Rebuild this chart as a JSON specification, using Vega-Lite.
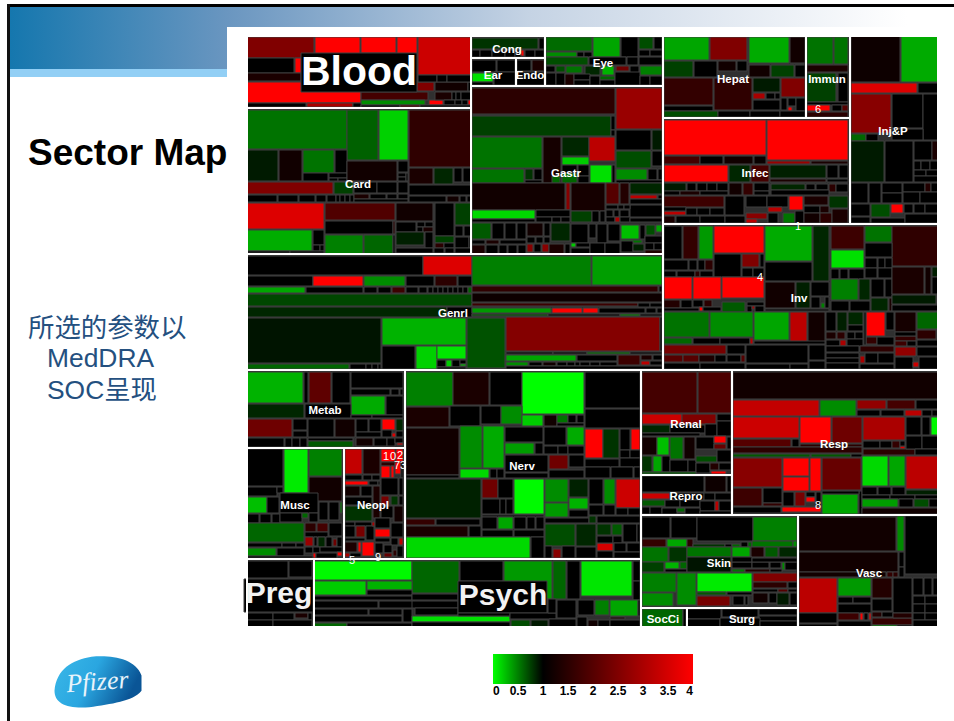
{"$schema":"https://vega.github.io/schema/vega-lite/v6.json","width":954,"height":721,"padding":0,"autosize":"none","background":"white","config":{"view":{"stroke":null}},
"datasets":{
"tiles":[
{"x0":247,"x1":314,"y0":37,"y1":58,"v":2.5},{"x0":315,"x1":360,"y0":37,"y1":75,"v":4},{"x0":361,"x1":396,"y0":37,"y1":53,"v":4},{"x0":397,"x1":417,"y0":37,"y1":57,"v":4},{"x0":418,"x1":471,"y0":37,"y1":75,"v":3.4},{"x0":247,"x1":294,"y0":58,"y1":73,"v":1},{"x0":295,"x1":315,"y0":58,"y1":73,"v":4},{"x0":247,"x1":301,"y0":73,"y1":81,"v":1.3},{"x0":247,"x1":361,"y0":82,"y1":103,"v":4},{"x0":361,"x1":428,"y0":92,"y1":100,"v":1.8},{"x0":361,"x1":425,"y0":100,"y1":105,"v":0.45},{"x0":429,"x1":443,"y0":100,"y1":105,"v":4},{"x0":417,"x1":434,"y0":82,"y1":91,"v":2.5},{"x0":435,"x1":468,"y0":82,"y1":91,"v":1.2},{"x0":468,"x1":471,"y0":82,"y1":91,"v":1},{"x0":418,"x1":437,"y0":75,"y1":82,"v":1},{"x0":437,"x1":447,"y0":75,"y1":82,"v":1},{"x0":447,"x1":471,"y0":75,"y1":82,"v":1},{"x0":435,"x1":452,"y0":92,"y1":100,"v":1.3},{"x0":452,"x1":456,"y0":92,"y1":100,"v":1},{"x0":456,"x1":461,"y0":92,"y1":100,"v":1},{"x0":461,"x1":471,"y0":92,"y1":100,"v":1},{"x0":444,"x1":455,"y0":100,"y1":105,"v":1},{"x0":455,"x1":462,"y0":100,"y1":105,"v":1},{"x0":462,"x1":468,"y0":100,"y1":105,"v":1},{"x0":468,"x1":471,"y0":100,"y1":105,"v":4},{"x0":247,"x1":306,"y0":103,"y1":107,"v":1},{"x0":307,"x1":353,"y0":103,"y1":107,"v":3},{"x0":353,"x1":361,"y0":103,"y1":107,"v":1},{"x0":361,"x1":400,"y0":105,"y1":107,"v":1},{"x0":400,"x1":420,"y0":105,"y1":107,"v":2},{"x0":420,"x1":471,"y0":105,"y1":107,"v":1},
{"x0":301,"x1":417,"y0":53,"y1":92,"v":1},
{"x0":247,"x1":347,"y0":110,"y1":149,"v":0.55},{"x0":347,"x1":378,"y0":110,"y1":160,"v":0.62},{"x0":379,"x1":408,"y0":110,"y1":160,"v":0.18},{"x0":409,"x1":471,"y0":110,"y1":167,"v":1.55},{"x0":247,"x1":278,"y0":150,"y1":181,"v":0.9},{"x0":279,"x1":302,"y0":150,"y1":181,"v":1.2},{"x0":303,"x1":334,"y0":150,"y1":173,"v":0.55},{"x0":335,"x1":347,"y0":150,"y1":173,"v":1},{"x0":303,"x1":328,"y0":173,"y1":181,"v":1},{"x0":329,"x1":347,"y0":173,"y1":178,"v":1},{"x0":329,"x1":338,"y0":178,"y1":181,"v":1},{"x0":338,"x1":347,"y0":178,"y1":181,"v":1},{"x0":347,"x1":397,"y0":161,"y1":181,"v":1.2},{"x0":398,"x1":408,"y0":161,"y1":172,"v":1},{"x0":398,"x1":406,"y0":173,"y1":177,"v":1},{"x0":398,"x1":406,"y0":177,"y1":181,"v":1},{"x0":406,"x1":408,"y0":173,"y1":181,"v":1},{"x0":409,"x1":433,"y0":168,"y1":184,"v":1.3},{"x0":434,"x1":453,"y0":168,"y1":184,"v":0.85},{"x0":454,"x1":462,"y0":168,"y1":182,"v":1},{"x0":463,"x1":471,"y0":168,"y1":182,"v":1},{"x0":247,"x1":333,"y0":182,"y1":194,"v":2.5},{"x0":334,"x1":353,"y0":182,"y1":194,"v":0.75},{"x0":354,"x1":377,"y0":182,"y1":193,"v":1},{"x0":377,"x1":397,"y0":182,"y1":193,"v":1},{"x0":398,"x1":408,"y0":182,"y1":193,"v":1},{"x0":409,"x1":471,"y0":185,"y1":195,"v":1},{"x0":247,"x1":277,"y0":195,"y1":202,"v":1},{"x0":278,"x1":298,"y0":195,"y1":202,"v":1},{"x0":299,"x1":315,"y0":195,"y1":202,"v":1},{"x0":316,"x1":326,"y0":195,"y1":202,"v":1},{"x0":327,"x1":336,"y0":195,"y1":202,"v":1},{"x0":336,"x1":340,"y0":195,"y1":202,"v":1},{"x0":340,"x1":345,"y0":195,"y1":202,"v":1},{"x0":345,"x1":350,"y0":195,"y1":202,"v":1},{"x0":350,"x1":354,"y0":195,"y1":202,"v":1},{"x0":354,"x1":369,"y0":194,"y1":199,"v":1.3},{"x0":370,"x1":386,"y0":194,"y1":199,"v":1},{"x0":387,"x1":397,"y0":194,"y1":199,"v":1},{"x0":398,"x1":408,"y0":194,"y1":199,"v":1},{"x0":354,"x1":408,"y0":199,"y1":202,"v":1},{"x0":409,"x1":446,"y0":196,"y1":202,"v":1},{"x0":447,"x1":459,"y0":196,"y1":202,"v":1.2},{"x0":460,"x1":466,"y0":196,"y1":202,"v":1},{"x0":467,"x1":471,"y0":196,"y1":202,"v":1},{"x0":247,"x1":324,"y0":203,"y1":229,"v":3.6},{"x0":325,"x1":395,"y0":203,"y1":220,"v":1.94},{"x0":396,"x1":433,"y0":203,"y1":221,"v":1.2},{"x0":435,"x1":454,"y0":203,"y1":236,"v":1},{"x0":455,"x1":471,"y0":203,"y1":225,"v":0.75},{"x0":325,"x1":393,"y0":221,"y1":234,"v":1},{"x0":393,"x1":395,"y0":221,"y1":234,"v":1.5},{"x0":396,"x1":416,"y0":222,"y1":232,"v":1},{"x0":417,"x1":425,"y0":222,"y1":227,"v":1},{"x0":425,"x1":433,"y0":222,"y1":227,"v":1},{"x0":417,"x1":423,"y0":227,"y1":232,"v":1},{"x0":423,"x1":433,"y0":227,"y1":232,"v":1.3},{"x0":247,"x1":312,"y0":230,"y1":251,"v":0.32},{"x0":313,"x1":324,"y0":230,"y1":245,"v":1},{"x0":313,"x1":320,"y0":245,"y1":251,"v":1},{"x0":320,"x1":324,"y0":245,"y1":251,"v":1},{"x0":325,"x1":363,"y0":235,"y1":254,"v":0.5},{"x0":364,"x1":393,"y0":235,"y1":254,"v":0.6},{"x0":393,"x1":395,"y0":235,"y1":254,"v":1},{"x0":396,"x1":424,"y0":232,"y1":245,"v":0.88},{"x0":425,"x1":433,"y0":232,"y1":248,"v":1},{"x0":435,"x1":454,"y0":236,"y1":243,"v":0.75},{"x0":435,"x1":444,"y0":243,"y1":248,"v":1.5},{"x0":444,"x1":454,"y0":243,"y1":248,"v":1},{"x0":455,"x1":463,"y0":226,"y1":236,"v":1},{"x0":464,"x1":471,"y0":226,"y1":236,"v":1},{"x0":455,"x1":469,"y0":237,"y1":248,"v":1},{"x0":469,"x1":471,"y0":237,"y1":248,"v":1},{"x0":396,"x1":433,"y0":248,"y1":253,"v":1},{"x0":434,"x1":444,"y0":248,"y1":253,"v":1},{"x0":445,"x1":454,"y0":248,"y1":253,"v":1},{"x0":455,"x1":471,"y0":248,"y1":253,"v":1},{"x0":247,"x1":290,"y0":251,"y1":253,"v":1},{"x0":290,"x1":324,"y0":251,"y1":253,"v":1},
{"x0":472,"x1":538,"y0":38,"y1":49,"v":0.8},{"x0":539,"x1":544,"y0":38,"y1":49,"v":1},{"x0":472,"x1":480,"y0":50,"y1":57,"v":1},{"x0":480,"x1":492,"y0":50,"y1":57,"v":1},{"x0":492,"x1":505,"y0":50,"y1":57,"v":1},{"x0":505,"x1":515,"y0":50,"y1":57,"v":1},{"x0":515,"x1":521,"y0":50,"y1":57,"v":1},{"x0":521,"x1":524,"y0":50,"y1":56,"v":4},{"x0":525,"x1":535,"y0":50,"y1":57,"v":1},{"x0":535,"x1":544,"y0":50,"y1":57,"v":1},
{"x0":472,"x1":496,"y0":60,"y1":72,"v":1},{"x0":497,"x1":515,"y0":60,"y1":72,"v":1},{"x0":472,"x1":493,"y0":73,"y1":82,"v":0.12},{"x0":494,"x1":515,"y0":72,"y1":85,"v":1},{"x0":472,"x1":493,"y0":82,"y1":85,"v":1},{"x0":517,"x1":531,"y0":60,"y1":71,"v":1},{"x0":532,"x1":544,"y0":60,"y1":71,"v":1.3},{"x0":517,"x1":544,"y0":72,"y1":85,"v":1},
{"x0":546,"x1":592,"y0":37,"y1":51,"v":0.58},{"x0":593,"x1":620,"y0":37,"y1":57,"v":0.35},{"x0":621,"x1":638,"y0":37,"y1":57,"v":1},{"x0":639,"x1":653,"y0":37,"y1":49,"v":0.7},{"x0":654,"x1":662,"y0":37,"y1":49,"v":1},{"x0":546,"x1":577,"y0":52,"y1":57,"v":0.45},{"x0":577,"x1":584,"y0":52,"y1":57,"v":1},{"x0":584,"x1":592,"y0":52,"y1":57,"v":1},{"x0":546,"x1":588,"y0":57,"y1":65,"v":0.7},{"x0":589,"x1":626,"y0":57,"y1":65,"v":1},{"x0":627,"x1":638,"y0":57,"y1":65,"v":1},{"x0":639,"x1":650,"y0":50,"y1":56,"v":1},{"x0":650,"x1":662,"y0":50,"y1":56,"v":1},{"x0":639,"x1":662,"y0":57,"y1":65,"v":1},{"x0":546,"x1":555,"y0":66,"y1":72,"v":1},{"x0":556,"x1":565,"y0":66,"y1":72,"v":0.7},{"x0":566,"x1":582,"y0":66,"y1":73,"v":0.55},{"x0":585,"x1":600,"y0":66,"y1":75,"v":0.85},{"x0":602,"x1":614,"y0":66,"y1":75,"v":0.3},{"x0":616,"x1":629,"y0":66,"y1":71,"v":2.3},{"x0":630,"x1":639,"y0":66,"y1":75,"v":1},{"x0":640,"x1":662,"y0":66,"y1":75,"v":0.5},{"x0":546,"x1":556,"y0":73,"y1":85,"v":1},{"x0":556,"x1":565,"y0":73,"y1":85,"v":1},{"x0":565,"x1":574,"y0":74,"y1":85,"v":1.3},{"x0":574,"x1":590,"y0":74,"y1":80,"v":1},{"x0":574,"x1":590,"y0":80,"y1":85,"v":1},{"x0":590,"x1":600,"y0":76,"y1":85,"v":1},{"x0":600,"x1":615,"y0":76,"y1":80,"v":0.6},{"x0":600,"x1":615,"y0":80,"y1":85,"v":1},{"x0":615,"x1":640,"y0":72,"y1":85,"v":1},{"x0":640,"x1":650,"y0":76,"y1":85,"v":1},{"x0":650,"x1":662,"y0":76,"y1":85,"v":1},
{"x0":472,"x1":615,"y0":88,"y1":114,"v":1.5},{"x0":616,"x1":662,"y0":88,"y1":129,"v":2.8},{"x0":472,"x1":611,"y0":116,"y1":136,"v":0.75},{"x0":611,"x1":615,"y0":116,"y1":130,"v":1},{"x0":611,"x1":615,"y0":130,"y1":136,"v":1},{"x0":472,"x1":542,"y0":137,"y1":168,"v":0.55},{"x0":543,"x1":561,"y0":137,"y1":183,"v":1.25},{"x0":562,"x1":589,"y0":137,"y1":156,"v":0.85},{"x0":589,"x1":615,"y0":137,"y1":161,"v":3.2},{"x0":616,"x1":651,"y0":130,"y1":150,"v":1},{"x0":652,"x1":662,"y0":130,"y1":150,"v":0.9},{"x0":616,"x1":651,"y0":151,"y1":168,"v":0.7},{"x0":652,"x1":662,"y0":151,"y1":166,"v":1},{"x0":562,"x1":589,"y0":157,"y1":165,"v":0.2},{"x0":562,"x1":577,"y0":165,"y1":173,"v":1},{"x0":578,"x1":589,"y0":165,"y1":176,"v":1},{"x0":472,"x1":524,"y0":169,"y1":183,"v":0.55},{"x0":525,"x1":533,"y0":169,"y1":180,"v":0.8},{"x0":534,"x1":542,"y0":169,"y1":180,"v":1},{"x0":525,"x1":542,"y0":180,"y1":183,"v":1},{"x0":552,"x1":560,"y0":176,"y1":183,"v":0.6},{"x0":562,"x1":577,"y0":173,"y1":183,"v":0.6},{"x0":578,"x1":589,"y0":176,"y1":183,"v":1},{"x0":590,"x1":612,"y0":165,"y1":183,"v":0.12},{"x0":612,"x1":615,"y0":165,"y1":183,"v":1},{"x0":616,"x1":647,"y0":169,"y1":180,"v":0.45},{"x0":648,"x1":657,"y0":169,"y1":180,"v":1},{"x0":658,"x1":662,"y0":169,"y1":180,"v":1},{"x0":616,"x1":662,"y0":180,"y1":183,"v":1},{"x0":472,"x1":565,"y0":183,"y1":210,"v":1.2},{"x0":566,"x1":570,"y0":183,"y1":210,"v":2.6},{"x0":571,"x1":605,"y0":183,"y1":211,"v":1.25},{"x0":606,"x1":619,"y0":183,"y1":204,"v":2},{"x0":620,"x1":629,"y0":183,"y1":204,"v":1.4},{"x0":630,"x1":662,"y0":183,"y1":194,"v":0.85},{"x0":630,"x1":657,"y0":195,"y1":199,"v":3.2},{"x0":658,"x1":662,"y0":195,"y1":199,"v":1},{"x0":630,"x1":662,"y0":199,"y1":204,"v":1},{"x0":630,"x1":662,"y0":205,"y1":217,"v":1},{"x0":606,"x1":618,"y0":205,"y1":209,"v":1},{"x0":618,"x1":624,"y0":205,"y1":209,"v":1},{"x0":624,"x1":630,"y0":205,"y1":209,"v":1},{"x0":472,"x1":535,"y0":210,"y1":219,"v":0.15},{"x0":536,"x1":570,"y0":210,"y1":217,"v":1},{"x0":536,"x1":552,"y0":217,"y1":222,"v":1},{"x0":552,"x1":561,"y0":217,"y1":222,"v":1},{"x0":561,"x1":570,"y0":217,"y1":222,"v":1},{"x0":472,"x1":535,"y0":219,"y1":222,"v":1},{"x0":571,"x1":592,"y0":211,"y1":222,"v":0.75},{"x0":592,"x1":599,"y0":211,"y1":222,"v":1},{"x0":600,"x1":605,"y0":211,"y1":222,"v":1},{"x0":606,"x1":613,"y0":210,"y1":217,"v":1},{"x0":614,"x1":619,"y0":210,"y1":217,"v":1},{"x0":620,"x1":629,"y0":210,"y1":217,"v":1},{"x0":606,"x1":615,"y0":217,"y1":222,"v":1},{"x0":615,"x1":620,"y0":217,"y1":222,"v":3},{"x0":620,"x1":630,"y0":217,"y1":222,"v":1},{"x0":630,"x1":662,"y0":218,"y1":222,"v":1},{"x0":472,"x1":491,"y0":223,"y1":239,"v":0.65},{"x0":492,"x1":504,"y0":223,"y1":239,"v":1},{"x0":505,"x1":516,"y0":223,"y1":239,"v":1},{"x0":517,"x1":526,"y0":223,"y1":239,"v":1},{"x0":527,"x1":543,"y0":223,"y1":236,"v":1.2},{"x0":544,"x1":550,"y0":223,"y1":236,"v":1},{"x0":551,"x1":570,"y0":223,"y1":241,"v":0.85},{"x0":571,"x1":588,"y0":224,"y1":243,"v":1},{"x0":589,"x1":596,"y0":224,"y1":238,"v":1},{"x0":597,"x1":607,"y0":224,"y1":243,"v":1},{"x0":608,"x1":620,"y0":224,"y1":241,"v":1},{"x0":621,"x1":639,"y0":225,"y1":239,"v":0.25},{"x0":640,"x1":645,"y0":225,"y1":239,"v":1},{"x0":646,"x1":655,"y0":225,"y1":235,"v":0.7},{"x0":656,"x1":662,"y0":225,"y1":232,"v":0.35},{"x0":621,"x1":642,"y0":240,"y1":243,"v":0.55},{"x0":472,"x1":485,"y0":240,"y1":244,"v":1},{"x0":486,"x1":499,"y0":240,"y1":244,"v":1.3},{"x0":500,"x1":526,"y0":240,"y1":244,"v":1},{"x0":527,"x1":535,"y0":237,"y1":243,"v":1},{"x0":536,"x1":543,"y0":237,"y1":243,"v":1},{"x0":544,"x1":550,"y0":237,"y1":243,"v":1},{"x0":472,"x1":485,"y0":245,"y1":254,"v":1.3},{"x0":486,"x1":498,"y0":245,"y1":254,"v":1},{"x0":499,"x1":507,"y0":245,"y1":254,"v":1},{"x0":508,"x1":517,"y0":245,"y1":254,"v":1},{"x0":518,"x1":526,"y0":245,"y1":254,"v":1},{"x0":527,"x1":533,"y0":244,"y1":252,"v":2.6},{"x0":534,"x1":541,"y0":244,"y1":252,"v":1},{"x0":542,"x1":549,"y0":244,"y1":252,"v":2.6},{"x0":549,"x1":564,"y0":244,"y1":254,"v":1.3},{"x0":565,"x1":570,"y0":244,"y1":254,"v":1},{"x0":571,"x1":576,"y0":243,"y1":247,"v":0.2},{"x0":576,"x1":590,"y0":243,"y1":247,"v":1},{"x0":571,"x1":590,"y0":248,"y1":254,"v":1},{"x0":590,"x1":605,"y0":243,"y1":254,"v":1},{"x0":605,"x1":620,"y0":243,"y1":254,"v":1},{"x0":621,"x1":633,"y0":241,"y1":252,"v":1},{"x0":633,"x1":644,"y0":244,"y1":251,"v":0.88},{"x0":645,"x1":662,"y0":236,"y1":243,"v":1},{"x0":645,"x1":654,"y0":243,"y1":250,"v":1},{"x0":654,"x1":662,"y0":243,"y1":250,"v":1},{"x0":645,"x1":662,"y0":250,"y1":254,"v":1.4},
{"x0":664,"x1":709,"y0":37,"y1":60,"v":0.35},{"x0":710,"x1":747,"y0":37,"y1":60,"v":2.5},{"x0":749,"x1":789,"y0":37,"y1":63,"v":0.33},{"x0":790,"x1":805,"y0":37,"y1":63,"v":1.2},{"x0":664,"x1":693,"y0":61,"y1":77,"v":0.75},{"x0":694,"x1":717,"y0":61,"y1":77,"v":1},{"x0":718,"x1":736,"y0":61,"y1":71,"v":1.2},{"x0":737,"x1":747,"y0":61,"y1":71,"v":1},{"x0":749,"x1":770,"y0":65,"y1":77,"v":1.2},{"x0":771,"x1":794,"y0":65,"y1":77,"v":0.75},{"x0":795,"x1":805,"y0":65,"y1":77,"v":1},{"x0":664,"x1":713,"y0":78,"y1":105,"v":1.6},{"x0":714,"x1":752,"y0":78,"y1":110,"v":1.55},{"x0":753,"x1":780,"y0":78,"y1":92,"v":0.9},{"x0":781,"x1":805,"y0":78,"y1":97,"v":2.5},{"x0":753,"x1":765,"y0":93,"y1":99,"v":3},{"x0":766,"x1":775,"y0":93,"y1":99,"v":1},{"x0":775,"x1":780,"y0":93,"y1":99,"v":1},{"x0":753,"x1":780,"y0":100,"y1":110,"v":1},{"x0":781,"x1":787,"y0":98,"y1":110,"v":1},{"x0":788,"x1":792,"y0":107,"y1":111,"v":4},{"x0":788,"x1":796,"y0":98,"y1":106,"v":1},{"x0":796,"x1":805,"y0":98,"y1":111,"v":1},{"x0":664,"x1":713,"y0":106,"y1":111,"v":1},{"x0":664,"x1":718,"y0":111,"y1":117,"v":0.7},{"x0":718,"x1":750,"y0":111,"y1":117,"v":1},{"x0":750,"x1":780,"y0":111,"y1":117,"v":1},{"x0":780,"x1":805,"y0":111,"y1":117,"v":1},
{"x0":807,"x1":833,"y0":37,"y1":64,"v":0.55},{"x0":834,"x1":848,"y0":37,"y1":64,"v":0.55},{"x0":807,"x1":848,"y0":65,"y1":72,"v":1.3},{"x0":807,"x1":836,"y0":73,"y1":102,"v":0.75},{"x0":838,"x1":848,"y0":73,"y1":102,"v":1},{"x0":807,"x1":848,"y0":102,"y1":105,"v":1},{"x0":807,"x1":830,"y0":105,"y1":111,"v":4},{"x0":832,"x1":842,"y0":105,"y1":111,"v":1},{"x0":842,"x1":848,"y0":105,"y1":111,"v":2},{"x0":807,"x1":848,"y0":112,"y1":117,"v":1.5},
{"x0":851,"x1":900,"y0":36,"y1":82,"v":1.15},{"x0":901,"x1":938,"y0":36,"y1":82,"v":0.33},{"x0":851,"x1":917,"y0":83,"y1":93,"v":3.6},{"x0":918,"x1":938,"y0":83,"y1":93,"v":1},{"x0":851,"x1":891,"y0":94,"y1":133,"v":2.6},{"x0":892,"x1":923,"y0":94,"y1":128,"v":1},{"x0":923,"x1":938,"y0":94,"y1":140,"v":1},{"x0":851,"x1":866,"y0":134,"y1":141,"v":0.6},{"x0":866,"x1":878,"y0":134,"y1":141,"v":1},{"x0":892,"x1":923,"y0":129,"y1":140,"v":1},{"x0":851,"x1":884,"y0":141,"y1":182,"v":0.9},{"x0":885,"x1":913,"y0":141,"y1":182,"v":1},{"x0":914,"x1":932,"y0":141,"y1":160,"v":1},{"x0":932,"x1":938,"y0":141,"y1":160,"v":1.3},{"x0":914,"x1":921,"y0":161,"y1":170,"v":1},{"x0":921,"x1":930,"y0":161,"y1":170,"v":1},{"x0":930,"x1":938,"y0":161,"y1":170,"v":1},{"x0":914,"x1":926,"y0":170,"y1":176,"v":1},{"x0":926,"x1":938,"y0":170,"y1":176,"v":1},{"x0":914,"x1":938,"y0":176,"y1":182,"v":1},{"x0":851,"x1":868,"y0":183,"y1":203,"v":1},{"x0":869,"x1":881,"y0":183,"y1":203,"v":1},{"x0":882,"x1":902,"y0":183,"y1":193,"v":1},{"x0":882,"x1":902,"y0":193,"y1":203,"v":1},{"x0":903,"x1":925,"y0":183,"y1":192,"v":1},{"x0":925,"x1":931,"y0":183,"y1":192,"v":1.4},{"x0":931,"x1":938,"y0":183,"y1":192,"v":1},{"x0":903,"x1":920,"y0":192,"y1":203,"v":1},{"x0":920,"x1":938,"y0":192,"y1":203,"v":1},{"x0":851,"x1":870,"y0":204,"y1":216,"v":1},{"x0":871,"x1":890,"y0":204,"y1":217,"v":0.7},{"x0":891,"x1":903,"y0":204,"y1":213,"v":4},{"x0":904,"x1":913,"y0":204,"y1":213,"v":1},{"x0":914,"x1":925,"y0":204,"y1":213,"v":1},{"x0":925,"x1":938,"y0":204,"y1":213,"v":1},{"x0":851,"x1":870,"y0":217,"y1":223,"v":1},{"x0":871,"x1":905,"y0":218,"y1":223,"v":1},{"x0":905,"x1":938,"y0":214,"y1":223,"v":1},
{"x0":664,"x1":766,"y0":120,"y1":155,"v":4},{"x0":767,"x1":848,"y0":120,"y1":160,"v":4},{"x0":664,"x1":700,"y0":156,"y1":164,"v":1.8},{"x0":700,"x1":723,"y0":156,"y1":164,"v":1},{"x0":724,"x1":753,"y0":156,"y1":164,"v":1.2},{"x0":754,"x1":766,"y0":156,"y1":164,"v":1.1},{"x0":767,"x1":810,"y0":161,"y1":164,"v":2.8},{"x0":811,"x1":848,"y0":161,"y1":164,"v":1.3},{"x0":664,"x1":728,"y0":165,"y1":182,"v":4},{"x0":729,"x1":750,"y0":165,"y1":182,"v":0.85},{"x0":751,"x1":769,"y0":165,"y1":182,"v":1.8},{"x0":770,"x1":826,"y0":165,"y1":178,"v":0.88},{"x0":827,"x1":838,"y0":165,"y1":178,"v":1},{"x0":839,"x1":848,"y0":165,"y1":178,"v":1},{"x0":770,"x1":826,"y0":179,"y1":182,"v":1.3},{"x0":827,"x1":848,"y0":179,"y1":182,"v":1},{"x0":664,"x1":686,"y0":183,"y1":191,"v":0.9},{"x0":687,"x1":696,"y0":183,"y1":191,"v":1},{"x0":697,"x1":707,"y0":183,"y1":191,"v":1},{"x0":707,"x1":717,"y0":183,"y1":191,"v":1},{"x0":717,"x1":728,"y0":183,"y1":191,"v":1},{"x0":664,"x1":680,"y0":191,"y1":195,"v":1},{"x0":680,"x1":700,"y0":191,"y1":195,"v":1.3},{"x0":700,"x1":728,"y0":191,"y1":195,"v":1},{"x0":729,"x1":742,"y0":183,"y1":195,"v":1.2},{"x0":743,"x1":753,"y0":183,"y1":195,"v":1.6},{"x0":754,"x1":769,"y0":183,"y1":191,"v":1},{"x0":754,"x1":769,"y0":191,"y1":195,"v":1},{"x0":771,"x1":805,"y0":184,"y1":190,"v":0.85},{"x0":806,"x1":815,"y0":184,"y1":190,"v":1},{"x0":816,"x1":828,"y0":184,"y1":190,"v":1},{"x0":829,"x1":836,"y0":184,"y1":192,"v":1.5},{"x0":836,"x1":848,"y0":184,"y1":192,"v":1},{"x0":771,"x1":829,"y0":190,"y1":195,"v":1},{"x0":664,"x1":724,"y0":196,"y1":207,"v":1.7},{"x0":725,"x1":744,"y0":196,"y1":215,"v":1},{"x0":746,"x1":767,"y0":196,"y1":207,"v":1},{"x0":767,"x1":788,"y0":196,"y1":207,"v":1},{"x0":789,"x1":803,"y0":196,"y1":210,"v":4},{"x0":804,"x1":828,"y0":196,"y1":205,"v":1.3},{"x0":829,"x1":848,"y0":196,"y1":208,"v":0.8},{"x0":664,"x1":686,"y0":211,"y1":215,"v":3.2},{"x0":664,"x1":686,"y0":207,"y1":211,"v":1},{"x0":686,"x1":697,"y0":208,"y1":215,"v":1},{"x0":697,"x1":710,"y0":208,"y1":215,"v":1},{"x0":710,"x1":724,"y0":208,"y1":215,"v":1},{"x0":664,"x1":675,"y0":216,"y1":223,"v":1.3},{"x0":676,"x1":700,"y0":216,"y1":223,"v":1},{"x0":700,"x1":725,"y0":216,"y1":223,"v":1},{"x0":725,"x1":745,"y0":216,"y1":223,"v":1},{"x0":746,"x1":767,"y0":213,"y1":219,"v":2.6},{"x0":746,"x1":757,"y0":219,"y1":223,"v":3.2},{"x0":768,"x1":782,"y0":207,"y1":212,"v":3.2},{"x0":768,"x1":778,"y0":213,"y1":223,"v":1},{"x0":783,"x1":795,"y0":213,"y1":223,"v":0.55},{"x0":795,"x1":804,"y0":211,"y1":223,"v":1},{"x0":804,"x1":820,"y0":206,"y1":213,"v":1},{"x0":820,"x1":829,"y0":206,"y1":213,"v":1.3},{"x0":804,"x1":820,"y0":213,"y1":223,"v":1.2},{"x0":820,"x1":832,"y0":213,"y1":223,"v":1.5},{"x0":832,"x1":848,"y0":209,"y1":223,"v":1.3},
{"x0":664,"x1":682,"y0":226,"y1":259,"v":1},{"x0":683,"x1":698,"y0":226,"y1":259,"v":1.6},{"x0":699,"x1":713,"y0":226,"y1":259,"v":0.4},{"x0":714,"x1":764,"y0":226,"y1":253,"v":4},{"x0":765,"x1":812,"y0":226,"y1":261,"v":0.33},{"x0":813,"x1":829,"y0":226,"y1":281,"v":0.85},{"x0":831,"x1":864,"y0":226,"y1":249,"v":1.7},{"x0":865,"x1":892,"y0":226,"y1":242,"v":0.55},{"x0":892,"x1":938,"y0":226,"y1":266,"v":1.55},{"x0":831,"x1":864,"y0":250,"y1":268,"v":0.12},{"x0":865,"x1":892,"y0":243,"y1":257,"v":1},{"x0":865,"x1":877,"y0":258,"y1":268,"v":1},{"x0":878,"x1":885,"y0":258,"y1":268,"v":1},{"x0":885,"x1":892,"y0":258,"y1":268,"v":1},{"x0":865,"x1":877,"y0":268,"y1":278,"v":1},{"x0":878,"x1":892,"y0":268,"y1":278,"v":1},{"x0":831,"x1":839,"y0":269,"y1":279,"v":1},{"x0":840,"x1":848,"y0":269,"y1":279,"v":1},{"x0":849,"x1":864,"y0":269,"y1":279,"v":1},{"x0":714,"x1":741,"y0":254,"y1":277,"v":1},{"x0":742,"x1":759,"y0":254,"y1":267,"v":2.5},{"x0":760,"x1":764,"y0":254,"y1":267,"v":1},{"x0":742,"x1":753,"y0":268,"y1":277,"v":1},{"x0":753,"x1":764,"y0":268,"y1":277,"v":1},{"x0":765,"x1":812,"y0":262,"y1":281,"v":1},{"x0":664,"x1":688,"y0":260,"y1":270,"v":1},{"x0":689,"x1":697,"y0":260,"y1":270,"v":1},{"x0":698,"x1":705,"y0":260,"y1":270,"v":1},{"x0":705,"x1":713,"y0":260,"y1":270,"v":1.5},{"x0":664,"x1":676,"y0":271,"y1":277,"v":1},{"x0":677,"x1":695,"y0":271,"y1":277,"v":1},{"x0":695,"x1":700,"y0":271,"y1":277,"v":1.5},{"x0":700,"x1":713,"y0":271,"y1":277,"v":1},{"x0":664,"x1":692,"y0":277,"y1":299,"v":4},{"x0":693,"x1":721,"y0":277,"y1":299,"v":4},{"x0":722,"x1":764,"y0":277,"y1":298,"v":4},{"x0":765,"x1":795,"y0":282,"y1":308,"v":1.2},{"x0":796,"x1":810,"y0":282,"y1":308,"v":0.88},{"x0":811,"x1":829,"y0":282,"y1":296,"v":1},{"x0":811,"x1":820,"y0":297,"y1":308,"v":1},{"x0":821,"x1":825,"y0":303,"y1":308,"v":0.5},{"x0":825,"x1":829,"y0":297,"y1":308,"v":1},{"x0":831,"x1":858,"y0":279,"y1":300,"v":0.5},{"x0":859,"x1":870,"y0":279,"y1":300,"v":0.85},{"x0":871,"x1":884,"y0":279,"y1":297,"v":1},{"x0":885,"x1":892,"y0":279,"y1":297,"v":1},{"x0":871,"x1":888,"y0":298,"y1":311,"v":0.85},{"x0":889,"x1":892,"y0":298,"y1":311,"v":1.3},{"x0":892,"x1":936,"y0":295,"y1":304,"v":0.9},{"x0":892,"x1":924,"y0":267,"y1":294,"v":1.3},{"x0":925,"x1":931,"y0":267,"y1":294,"v":1.2},{"x0":932,"x1":938,"y0":267,"y1":277,"v":0.88},{"x0":932,"x1":938,"y0":277,"y1":294,"v":1},{"x0":831,"x1":849,"y0":301,"y1":311,"v":1},{"x0":850,"x1":870,"y0":301,"y1":311,"v":1},{"x0":892,"x1":938,"y0":305,"y1":311,"v":1},{"x0":664,"x1":680,"y0":300,"y1":308,"v":1.4},{"x0":681,"x1":692,"y0":300,"y1":308,"v":1},{"x0":693,"x1":703,"y0":300,"y1":307,"v":1},{"x0":704,"x1":712,"y0":300,"y1":307,"v":1.5},{"x0":699,"x1":703,"y0":307,"y1":311,"v":4},{"x0":664,"x1":699,"y0":308,"y1":311,"v":1},{"x0":703,"x1":721,"y0":307,"y1":311,"v":1},{"x0":722,"x1":745,"y0":302,"y1":312,"v":0.65},{"x0":747,"x1":764,"y0":302,"y1":306,"v":1},{"x0":747,"x1":752,"y0":306,"y1":312,"v":1},{"x0":752,"x1":755,"y0":306,"y1":309,"v":3},{"x0":755,"x1":764,"y0":306,"y1":312,"v":1},{"x0":765,"x1":829,"y0":309,"y1":311,"v":1},
{"x0":664,"x1":709,"y0":312,"y1":337,"v":0.55},{"x0":710,"x1":753,"y0":312,"y1":337,"v":0.45},{"x0":754,"x1":789,"y0":312,"y1":340,"v":0.35},{"x0":790,"x1":807,"y0":312,"y1":342,"v":3.2},{"x0":808,"x1":825,"y0":312,"y1":342,"v":1.2},{"x0":826,"x1":836,"y0":312,"y1":331,"v":1},{"x0":837,"x1":847,"y0":312,"y1":331,"v":0.88},{"x0":848,"x1":863,"y0":312,"y1":325,"v":0.85},{"x0":848,"x1":863,"y0":325,"y1":331,"v":1},{"x0":866,"x1":885,"y0":312,"y1":336,"v":4},{"x0":886,"x1":894,"y0":312,"y1":330,"v":1},{"x0":895,"x1":916,"y0":312,"y1":332,"v":1.25},{"x0":917,"x1":938,"y0":312,"y1":329,"v":0.6},{"x0":917,"x1":936,"y0":330,"y1":339,"v":1.5},{"x0":895,"x1":916,"y0":336,"y1":341,"v":1.6},{"x0":895,"x1":916,"y0":332,"y1":336,"v":1},{"x0":895,"x1":907,"y0":341,"y1":346,"v":1.7},{"x0":907,"x1":916,"y0":341,"y1":346,"v":1},{"x0":917,"x1":938,"y0":340,"y1":346,"v":1},{"x0":866,"x1":877,"y0":337,"y1":344,"v":1.6},{"x0":877,"x1":894,"y0":337,"y1":345,"v":1},{"x0":864,"x1":866,"y0":312,"y1":345,"v":1},{"x0":826,"x1":836,"y0":332,"y1":339,"v":1.3},{"x0":837,"x1":845,"y0":332,"y1":339,"v":1.5},{"x0":826,"x1":840,"y0":340,"y1":346,"v":1},{"x0":840,"x1":846,"y0":340,"y1":346,"v":3},{"x0":847,"x1":855,"y0":332,"y1":339,"v":1},{"x0":855,"x1":863,"y0":332,"y1":339,"v":1},{"x0":847,"x1":863,"y0":339,"y1":346,"v":1},{"x0":664,"x1":692,"y0":338,"y1":344,"v":0.6},{"x0":693,"x1":720,"y0":338,"y1":344,"v":1},{"x0":720,"x1":750,"y0":338,"y1":344,"v":1},{"x0":750,"x1":753,"y0":338,"y1":344,"v":3.2},{"x0":754,"x1":825,"y0":341,"y1":344,"v":1},{"x0":664,"x1":726,"y0":345,"y1":354,"v":2.4},{"x0":727,"x1":745,"y0":345,"y1":354,"v":1},{"x0":746,"x1":808,"y0":345,"y1":363,"v":1},{"x0":809,"x1":825,"y0":345,"y1":360,"v":1},{"x0":826,"x1":859,"y0":346,"y1":352,"v":1},{"x0":860,"x1":894,"y0":346,"y1":352,"v":1.5},{"x0":895,"x1":916,"y0":347,"y1":356,"v":2.7},{"x0":917,"x1":938,"y0":347,"y1":356,"v":1},{"x0":664,"x1":683,"y0":355,"y1":362,"v":2},{"x0":683,"x1":699,"y0":355,"y1":362,"v":2},{"x0":699,"x1":715,"y0":355,"y1":362,"v":1.3},{"x0":715,"x1":726,"y0":355,"y1":362,"v":1},{"x0":727,"x1":741,"y0":355,"y1":362,"v":1},{"x0":741,"x1":745,"y0":355,"y1":362,"v":2},{"x0":664,"x1":700,"y0":363,"y1":369,"v":1},{"x0":700,"x1":745,"y0":363,"y1":369,"v":1},{"x0":746,"x1":790,"y0":364,"y1":369,"v":1},{"x0":790,"x1":808,"y0":364,"y1":369,"v":1},{"x0":809,"x1":825,"y0":361,"y1":369,"v":1},{"x0":826,"x1":859,"y0":353,"y1":358,"v":1},{"x0":826,"x1":859,"y0":358,"y1":363,"v":1},{"x0":826,"x1":859,"y0":363,"y1":369,"v":1},{"x0":860,"x1":865,"y0":356,"y1":363,"v":3},{"x0":865,"x1":878,"y0":353,"y1":363,"v":1},{"x0":878,"x1":894,"y0":353,"y1":363,"v":1},{"x0":860,"x1":894,"y0":364,"y1":369,"v":1},{"x0":895,"x1":913,"y0":357,"y1":369,"v":1},{"x0":913,"x1":919,"y0":362,"y1":367,"v":3.4},{"x0":919,"x1":938,"y0":357,"y1":369,"v":1},
{"x0":247,"x1":423,"y0":256,"y1":275,"v":1},{"x0":423,"x1":472,"y0":256,"y1":275,"v":3.6},{"x0":247,"x1":313,"y0":276,"y1":286,"v":1},{"x0":313,"x1":363,"y0":276,"y1":286,"v":4},{"x0":364,"x1":405,"y0":276,"y1":286,"v":0.45},{"x0":406,"x1":434,"y0":276,"y1":286,"v":1},{"x0":435,"x1":457,"y0":276,"y1":286,"v":1.5},{"x0":458,"x1":472,"y0":276,"y1":286,"v":1},{"x0":247,"x1":305,"y0":287,"y1":293,"v":0.35},{"x0":306,"x1":363,"y0":287,"y1":293,"v":1},{"x0":364,"x1":377,"y0":287,"y1":293,"v":1},{"x0":378,"x1":391,"y0":287,"y1":293,"v":1},{"x0":392,"x1":405,"y0":287,"y1":293,"v":1.7},{"x0":406,"x1":418,"y0":287,"y1":293,"v":1},{"x0":419,"x1":427,"y0":287,"y1":293,"v":1},{"x0":428,"x1":433,"y0":287,"y1":293,"v":1},{"x0":433,"x1":438,"y0":287,"y1":293,"v":1},{"x0":438,"x1":443,"y0":287,"y1":293,"v":1},{"x0":443,"x1":448,"y0":287,"y1":293,"v":1},{"x0":448,"x1":453,"y0":287,"y1":293,"v":1},{"x0":453,"x1":458,"y0":287,"y1":293,"v":1},{"x0":458,"x1":463,"y0":287,"y1":293,"v":1},{"x0":463,"x1":468,"y0":287,"y1":293,"v":1},{"x0":468,"x1":472,"y0":287,"y1":293,"v":0.6},{"x0":247,"x1":472,"y0":294,"y1":306,"v":0.72},{"x0":247,"x1":447,"y0":307,"y1":317,"v":0.85},{"x0":447,"x1":472,"y0":307,"y1":317,"v":1},{"x0":247,"x1":381,"y0":318,"y1":363,"v":0.92},{"x0":382,"x1":466,"y0":318,"y1":345,"v":0.3},{"x0":382,"x1":415,"y0":346,"y1":369,"v":1},{"x0":416,"x1":437,"y0":346,"y1":369,"v":0.18},{"x0":437,"x1":466,"y0":346,"y1":359,"v":0.1},{"x0":437,"x1":446,"y0":360,"y1":367,"v":1},{"x0":446,"x1":452,"y0":360,"y1":367,"v":0.2},{"x0":452,"x1":460,"y0":360,"y1":367,"v":1},{"x0":460,"x1":466,"y0":360,"y1":364,"v":1},{"x0":460,"x1":466,"y0":364,"y1":366,"v":0.2},{"x0":437,"x1":466,"y0":367,"y1":369,"v":1},{"x0":247,"x1":349,"y0":364,"y1":369,"v":0.6},{"x0":350,"x1":366,"y0":364,"y1":369,"v":1},{"x0":366,"x1":372,"y0":364,"y1":369,"v":1},{"x0":372,"x1":378,"y0":364,"y1":369,"v":1},{"x0":378,"x1":381,"y0":364,"y1":369,"v":1},{"x0":467,"x1":505,"y0":318,"y1":368,"v":0.68},{"x0":506,"x1":660,"y0":317,"y1":351,"v":2.55},{"x0":660,"x1":662,"y0":317,"y1":351,"v":1},{"x0":472,"x1":591,"y0":256,"y1":285,"v":0.5},{"x0":592,"x1":662,"y0":256,"y1":285,"v":0.38},{"x0":472,"x1":658,"y0":286,"y1":292,"v":1.55},{"x0":659,"x1":662,"y0":286,"y1":292,"v":1},{"x0":472,"x1":662,"y0":293,"y1":302,"v":1.15},{"x0":472,"x1":638,"y0":303,"y1":306,"v":1.7},{"x0":638,"x1":650,"y0":303,"y1":307,"v":1},{"x0":650,"x1":662,"y0":303,"y1":307,"v":1},{"x0":472,"x1":551,"y0":308,"y1":313,"v":0.4},{"x0":552,"x1":582,"y0":308,"y1":313,"v":4},{"x0":583,"x1":598,"y0":308,"y1":313,"v":4},{"x0":599,"x1":645,"y0":308,"y1":313,"v":1},{"x0":646,"x1":656,"y0":308,"y1":313,"v":1},{"x0":657,"x1":662,"y0":308,"y1":313,"v":1},{"x0":472,"x1":548,"y0":314,"y1":316,"v":0.65},{"x0":548,"x1":620,"y0":314,"y1":316,"v":1},{"x0":620,"x1":640,"y0":314,"y1":316,"v":0.5},{"x0":640,"x1":662,"y0":314,"y1":316,"v":1},{"x0":506,"x1":553,"y0":352,"y1":354,"v":1},{"x0":553,"x1":587,"y0":352,"y1":354,"v":1},{"x0":587,"x1":630,"y0":352,"y1":354,"v":0.55},{"x0":630,"x1":662,"y0":352,"y1":354,"v":1},{"x0":506,"x1":576,"y0":355,"y1":361,"v":0.35},{"x0":577,"x1":617,"y0":355,"y1":361,"v":1},{"x0":618,"x1":640,"y0":355,"y1":365,"v":1.7},{"x0":641,"x1":652,"y0":355,"y1":360,"v":1.3},{"x0":653,"x1":662,"y0":355,"y1":360,"v":1},{"x0":506,"x1":528,"y0":362,"y1":366,"v":0.45},{"x0":529,"x1":542,"y0":362,"y1":366,"v":1},{"x0":543,"x1":556,"y0":362,"y1":366,"v":1.2},{"x0":557,"x1":567,"y0":362,"y1":366,"v":1},{"x0":567,"x1":575,"y0":362,"y1":366,"v":1},{"x0":575,"x1":580,"y0":362,"y1":366,"v":1},{"x0":580,"x1":590,"y0":362,"y1":366,"v":1},{"x0":590,"x1":600,"y0":362,"y1":366,"v":1},{"x0":600,"x1":617,"y0":362,"y1":366,"v":1},{"x0":641,"x1":650,"y0":361,"y1":365,"v":3.2},{"x0":650,"x1":662,"y0":361,"y1":365,"v":1},{"x0":506,"x1":662,"y0":366,"y1":369,"v":1},
{"x0":247,"x1":303,"y0":372,"y1":403,"v":0.3},{"x0":304,"x1":308,"y0":372,"y1":403,"v":1},{"x0":309,"x1":331,"y0":372,"y1":403,"v":2.1},{"x0":332,"x1":350,"y0":372,"y1":403,"v":1},{"x0":351,"x1":403,"y0":372,"y1":388,"v":1},{"x0":351,"x1":390,"y0":389,"y1":395,"v":1},{"x0":391,"x1":399,"y0":389,"y1":395,"v":1},{"x0":400,"x1":403,"y0":389,"y1":395,"v":1},{"x0":351,"x1":385,"y0":396,"y1":415,"v":0.33},{"x0":386,"x1":403,"y0":396,"y1":415,"v":1},{"x0":247,"x1":304,"y0":404,"y1":418,"v":0.85},{"x0":305,"x1":351,"y0":404,"y1":418,"v":1},{"x0":351,"x1":372,"y0":415,"y1":418,"v":1},{"x0":372,"x1":403,"y0":415,"y1":418,"v":1},{"x0":247,"x1":292,"y0":419,"y1":437,"v":2.3},{"x0":293,"x1":307,"y0":419,"y1":430,"v":1},{"x0":293,"x1":307,"y0":431,"y1":437,"v":1},{"x0":308,"x1":334,"y0":419,"y1":437,"v":1},{"x0":335,"x1":355,"y0":419,"y1":437,"v":1.2},{"x0":356,"x1":368,"y0":419,"y1":432,"v":1},{"x0":369,"x1":381,"y0":419,"y1":432,"v":1},{"x0":382,"x1":395,"y0":419,"y1":430,"v":4},{"x0":396,"x1":403,"y0":419,"y1":431,"v":0.85},{"x0":382,"x1":392,"y0":430,"y1":437,"v":1},{"x0":392,"x1":396,"y0":433,"y1":437,"v":3.6},{"x0":396,"x1":403,"y0":431,"y1":437,"v":1},{"x0":356,"x1":381,"y0":432,"y1":437,"v":1},{"x0":247,"x1":284,"y0":438,"y1":447,"v":1},{"x0":285,"x1":292,"y0":438,"y1":447,"v":1},{"x0":292,"x1":300,"y0":438,"y1":447,"v":1},{"x0":300,"x1":307,"y0":438,"y1":447,"v":1},{"x0":308,"x1":353,"y0":438,"y1":441,"v":1},{"x0":308,"x1":353,"y0":441,"y1":447,"v":0.65},{"x0":356,"x1":373,"y0":438,"y1":446,"v":1.2},{"x0":374,"x1":387,"y0":438,"y1":446,"v":1},{"x0":387,"x1":395,"y0":438,"y1":446,"v":1},{"x0":395,"x1":403,"y0":438,"y1":443,"v":1},{"x0":397,"x1":403,"y0":443,"y1":445,"v":3.6},
{"x0":247,"x1":283,"y0":449,"y1":486,"v":1},{"x0":284,"x1":308,"y0":449,"y1":493,"v":0.08},{"x0":309,"x1":342,"y0":449,"y1":476,"v":0.5},{"x0":309,"x1":342,"y0":477,"y1":501,"v":1.2},{"x0":247,"x1":277,"y0":487,"y1":496,"v":1},{"x0":277,"x1":283,"y0":487,"y1":493,"v":1},{"x0":247,"x1":267,"y0":497,"y1":513,"v":0.25},{"x0":267,"x1":279,"y0":497,"y1":513,"v":1},{"x0":280,"x1":318,"y0":493,"y1":513,"v":1},{"x0":319,"x1":328,"y0":502,"y1":520,"v":1},{"x0":329,"x1":339,"y0":502,"y1":520,"v":1},{"x0":340,"x1":342,"y0":502,"y1":513,"v":0.5},{"x0":247,"x1":259,"y0":514,"y1":523,"v":1},{"x0":260,"x1":271,"y0":514,"y1":523,"v":1},{"x0":272,"x1":280,"y0":514,"y1":523,"v":1},{"x0":280,"x1":302,"y0":513,"y1":522,"v":1},{"x0":302,"x1":308,"y0":513,"y1":518,"v":0.6},{"x0":309,"x1":318,"y0":513,"y1":522,"v":1},{"x0":247,"x1":304,"y0":523,"y1":542,"v":0.6},{"x0":305,"x1":316,"y0":523,"y1":532,"v":1.5},{"x0":317,"x1":328,"y0":523,"y1":532,"v":1.8},{"x0":329,"x1":342,"y0":523,"y1":536,"v":1},{"x0":305,"x1":328,"y0":532,"y1":537,"v":1},{"x0":305,"x1":313,"y0":537,"y1":546,"v":2.8},{"x0":314,"x1":317,"y0":537,"y1":546,"v":1},{"x0":318,"x1":325,"y0":537,"y1":547,"v":0.85},{"x0":326,"x1":332,"y0":537,"y1":547,"v":1},{"x0":333,"x1":337,"y0":539,"y1":546,"v":2.3},{"x0":337,"x1":342,"y0":537,"y1":547,"v":1},{"x0":247,"x1":282,"y0":543,"y1":547,"v":1},{"x0":282,"x1":296,"y0":543,"y1":547,"v":1},{"x0":296,"x1":304,"y0":543,"y1":547,"v":1},{"x0":247,"x1":276,"y0":548,"y1":556,"v":0.45},{"x0":277,"x1":304,"y0":548,"y1":556,"v":1},{"x0":305,"x1":313,"y0":547,"y1":553,"v":1},{"x0":313,"x1":320,"y0":547,"y1":553,"v":1},{"x0":320,"x1":342,"y0":547,"y1":552,"v":1},{"x0":313,"x1":316,"y0":553,"y1":558,"v":4},{"x0":337,"x1":342,"y0":552,"y1":556,"v":4},{"x0":316,"x1":337,"y0":553,"y1":558,"v":1},{"x0":247,"x1":313,"y0":556,"y1":558,"v":1},
{"x0":345,"x1":362,"y0":449,"y1":474,"v":3.3},{"x0":363,"x1":380,"y0":449,"y1":474,"v":1.3},{"x0":381,"x1":395,"y0":449,"y1":462,"v":4},{"x0":396,"x1":403,"y0":449,"y1":462,"v":4},{"x0":381,"x1":395,"y0":462,"y1":466,"v":1.5},{"x0":381,"x1":390,"y0":466,"y1":478,"v":4},{"x0":391,"x1":394,"y0":466,"y1":478,"v":4},{"x0":395,"x1":401,"y0":462,"y1":474,"v":4},{"x0":401,"x1":403,"y0":462,"y1":478,"v":1},{"x0":345,"x1":362,"y0":475,"y1":480,"v":1},{"x0":363,"x1":372,"y0":475,"y1":480,"v":1},{"x0":372,"x1":380,"y0":475,"y1":480,"v":1},{"x0":345,"x1":368,"y0":481,"y1":485,"v":4},{"x0":369,"x1":378,"y0":481,"y1":485,"v":1},{"x0":378,"x1":380,"y0":481,"y1":485,"v":1},{"x0":345,"x1":360,"y0":486,"y1":496,"v":1.2},{"x0":361,"x1":372,"y0":486,"y1":496,"v":1},{"x0":373,"x1":380,"y0":486,"y1":505,"v":1.3},{"x0":381,"x1":398,"y0":478,"y1":495,"v":1},{"x0":399,"x1":403,"y0":478,"y1":495,"v":1},{"x0":381,"x1":389,"y0":496,"y1":505,"v":2.4},{"x0":391,"x1":398,"y0":496,"y1":505,"v":0.8},{"x0":399,"x1":403,"y0":496,"y1":505,"v":1},{"x0":345,"x1":372,"y0":497,"y1":505,"v":1},{"x0":345,"x1":372,"y0":506,"y1":521,"v":0.8},{"x0":373,"x1":380,"y0":506,"y1":518,"v":1.3},{"x0":381,"x1":393,"y0":506,"y1":518,"v":1},{"x0":394,"x1":403,"y0":506,"y1":522,"v":1.2},{"x0":345,"x1":355,"y0":522,"y1":526,"v":1},{"x0":355,"x1":372,"y0":522,"y1":526,"v":1},{"x0":345,"x1":355,"y0":526,"y1":537,"v":1},{"x0":356,"x1":365,"y0":526,"y1":537,"v":2.4},{"x0":366,"x1":374,"y0":526,"y1":540,"v":1},{"x0":372,"x1":375,"y0":522,"y1":526,"v":3},{"x0":375,"x1":390,"y0":529,"y1":537,"v":4},{"x0":375,"x1":390,"y0":518,"y1":528,"v":1},{"x0":391,"x1":403,"y0":523,"y1":537,"v":1},{"x0":345,"x1":365,"y0":538,"y1":541,"v":1},{"x0":375,"x1":390,"y0":538,"y1":542,"v":1},{"x0":391,"x1":398,"y0":538,"y1":545,"v":1},{"x0":399,"x1":403,"y0":538,"y1":545,"v":3.2},{"x0":345,"x1":357,"y0":542,"y1":552,"v":1.3},{"x0":358,"x1":361,"y0":542,"y1":552,"v":4},{"x0":362,"x1":374,"y0":542,"y1":556,"v":4},{"x0":375,"x1":383,"y0":543,"y1":553,"v":1},{"x0":384,"x1":392,"y0":545,"y1":553,"v":1},{"x0":384,"x1":392,"y0":553,"y1":557,"v":2.2},{"x0":393,"x1":397,"y0":550,"y1":556,"v":1.5},{"x0":397,"x1":403,"y0":546,"y1":557,"v":1},{"x0":345,"x1":350,"y0":553,"y1":557,"v":3},{"x0":350,"x1":361,"y0":553,"y1":557,"v":1},
{"x0":406,"x1":453,"y0":372,"y1":406,"v":0.5},{"x0":453,"x1":489,"y0":372,"y1":405,"v":1.3},{"x0":490,"x1":522,"y0":372,"y1":405,"v":1},{"x0":522,"x1":584,"y0":372,"y1":414,"v":0},{"x0":585,"x1":640,"y0":372,"y1":408,"v":1},{"x0":406,"x1":449,"y0":407,"y1":427,"v":1.3},{"x0":450,"x1":480,"y0":406,"y1":426,"v":1},{"x0":481,"x1":501,"y0":406,"y1":424,"v":1},{"x0":501,"x1":522,"y0":406,"y1":424,"v":0.45},{"x0":522,"x1":543,"y0":415,"y1":426,"v":0.2},{"x0":544,"x1":557,"y0":415,"y1":426,"v":1.2},{"x0":557,"x1":568,"y0":415,"y1":423,"v":0.55},{"x0":568,"x1":576,"y0":415,"y1":423,"v":1},{"x0":577,"x1":584,"y0":415,"y1":423,"v":1},{"x0":557,"x1":584,"y0":423,"y1":426,"v":1},{"x0":585,"x1":640,"y0":409,"y1":428,"v":1},{"x0":406,"x1":459,"y0":428,"y1":475,"v":1.2},{"x0":460,"x1":482,"y0":426,"y1":468,"v":0.45},{"x0":483,"x1":504,"y0":426,"y1":468,"v":0.33},{"x0":505,"x1":543,"y0":427,"y1":442,"v":1},{"x0":544,"x1":566,"y0":427,"y1":445,"v":1},{"x0":567,"x1":584,"y0":427,"y1":445,"v":0.33},{"x0":585,"x1":603,"y0":429,"y1":458,"v":4},{"x0":603,"x1":619,"y0":429,"y1":458,"v":0.8},{"x0":620,"x1":630,"y0":429,"y1":450,"v":1},{"x0":631,"x1":640,"y0":429,"y1":450,"v":4},{"x0":505,"x1":534,"y0":443,"y1":454,"v":0.38},{"x0":535,"x1":543,"y0":443,"y1":454,"v":1},{"x0":544,"x1":558,"y0":446,"y1":454,"v":1},{"x0":558,"x1":568,"y0":446,"y1":454,"v":1},{"x0":568,"x1":584,"y0":446,"y1":454,"v":1},{"x0":585,"x1":619,"y0":459,"y1":467,"v":1},{"x0":620,"x1":630,"y0":450,"y1":458,"v":1},{"x0":630,"x1":640,"y0":450,"y1":458,"v":1},{"x0":620,"x1":640,"y0":458,"y1":467,"v":1},{"x0":505,"x1":548,"y0":455,"y1":472,"v":1},{"x0":549,"x1":568,"y0":455,"y1":469,"v":2.3},{"x0":569,"x1":584,"y0":455,"y1":467,"v":1},{"x0":585,"x1":610,"y0":467,"y1":478,"v":1},{"x0":611,"x1":633,"y0":467,"y1":478,"v":1},{"x0":634,"x1":640,"y0":467,"y1":478,"v":1},{"x0":460,"x1":489,"y0":469,"y1":478,"v":0.15},{"x0":490,"x1":497,"y0":469,"y1":478,"v":1},{"x0":497,"x1":504,"y0":469,"y1":478,"v":1},{"x0":505,"x1":548,"y0":473,"y1":478,"v":1},{"x0":549,"x1":584,"y0":470,"y1":478,"v":1},{"x0":406,"x1":459,"y0":475,"y1":478,"v":1},{"x0":406,"x1":481,"y0":479,"y1":518,"v":0.87},{"x0":482,"x1":498,"y0":479,"y1":498,"v":2.3},{"x0":498,"x1":513,"y0":479,"y1":498,"v":1},{"x0":514,"x1":544,"y0":479,"y1":514,"v":0.02},{"x0":545,"x1":568,"y0":479,"y1":502,"v":0.45},{"x0":569,"x1":588,"y0":479,"y1":497,"v":0.87},{"x0":589,"x1":603,"y0":479,"y1":504,"v":1},{"x0":604,"x1":615,"y0":479,"y1":504,"v":0.45},{"x0":616,"x1":640,"y0":479,"y1":508,"v":3.4},{"x0":569,"x1":588,"y0":498,"y1":509,"v":0.3},{"x0":545,"x1":568,"y0":503,"y1":517,"v":0.4},{"x0":569,"x1":588,"y0":510,"y1":517,"v":1},{"x0":589,"x1":603,"y0":505,"y1":515,"v":1},{"x0":604,"x1":615,"y0":505,"y1":515,"v":1},{"x0":616,"x1":628,"y0":508,"y1":515,"v":1},{"x0":628,"x1":640,"y0":508,"y1":515,"v":1},{"x0":482,"x1":500,"y0":499,"y1":514,"v":1},{"x0":500,"x1":506,"y0":499,"y1":514,"v":1},{"x0":506,"x1":513,"y0":499,"y1":514,"v":1},{"x0":482,"x1":544,"y0":515,"y1":517,"v":1},{"x0":406,"x1":435,"y0":519,"y1":525,"v":1.6},{"x0":436,"x1":480,"y0":519,"y1":525,"v":1},{"x0":406,"x1":468,"y0":526,"y1":537,"v":1.3},{"x0":469,"x1":481,"y0":526,"y1":537,"v":1},{"x0":482,"x1":497,"y0":517,"y1":529,"v":1},{"x0":498,"x1":513,"y0":517,"y1":529,"v":0.35},{"x0":514,"x1":526,"y0":517,"y1":529,"v":1},{"x0":527,"x1":535,"y0":517,"y1":529,"v":1},{"x0":536,"x1":544,"y0":517,"y1":529,"v":1},{"x0":482,"x1":513,"y0":530,"y1":537,"v":1},{"x0":514,"x1":544,"y0":530,"y1":537,"v":1},{"x0":545,"x1":575,"y0":524,"y1":546,"v":0.7},{"x0":576,"x1":596,"y0":524,"y1":546,"v":0.85},{"x0":597,"x1":611,"y0":524,"y1":535,"v":0.8},{"x0":612,"x1":622,"y0":524,"y1":535,"v":0.65},{"x0":623,"x1":637,"y0":524,"y1":542,"v":1},{"x0":637,"x1":640,"y0":524,"y1":542,"v":1},{"x0":545,"x1":589,"y0":518,"y1":523,"v":1},{"x0":589,"x1":596,"y0":516,"y1":523,"v":0.8},{"x0":597,"x1":640,"y0":516,"y1":523,"v":1},{"x0":597,"x1":613,"y0":543,"y1":551,"v":3.5},{"x0":597,"x1":613,"y0":536,"y1":543,"v":1},{"x0":613,"x1":622,"y0":536,"y1":543,"v":1},{"x0":406,"x1":530,"y0":537,"y1":558,"v":0.15},{"x0":531,"x1":544,"y0":537,"y1":558,"v":1},{"x0":545,"x1":552,"y0":546,"y1":558,"v":1},{"x0":553,"x1":561,"y0":549,"y1":558,"v":2.6},{"x0":562,"x1":575,"y0":546,"y1":558,"v":1},{"x0":576,"x1":596,"y0":547,"y1":558,"v":1},{"x0":597,"x1":613,"y0":551,"y1":558,"v":1},{"x0":614,"x1":626,"y0":543,"y1":552,"v":1},{"x0":627,"x1":640,"y0":543,"y1":552,"v":1},{"x0":614,"x1":640,"y0":552,"y1":558,"v":1},
{"x0":642,"x1":697,"y0":372,"y1":413,"v":1.8},{"x0":698,"x1":731,"y0":372,"y1":413,"v":1.9},{"x0":642,"x1":682,"y0":414,"y1":424,"v":3.4},{"x0":682,"x1":716,"y0":414,"y1":424,"v":2.5},{"x0":717,"x1":731,"y0":414,"y1":421,"v":1},{"x0":642,"x1":670,"y0":425,"y1":433,"v":0.85},{"x0":670,"x1":705,"y0":425,"y1":433,"v":1},{"x0":705,"x1":717,"y0":424,"y1":436,"v":1},{"x0":717,"x1":731,"y0":421,"y1":436,"v":1},{"x0":642,"x1":700,"y0":433,"y1":436,"v":1},{"x0":642,"x1":657,"y0":437,"y1":455,"v":1.2},{"x0":657,"x1":669,"y0":437,"y1":455,"v":0.25},{"x0":670,"x1":683,"y0":437,"y1":459,"v":0.55},{"x0":684,"x1":695,"y0":437,"y1":459,"v":1.2},{"x0":696,"x1":714,"y0":437,"y1":449,"v":1},{"x0":714,"x1":726,"y0":436,"y1":443,"v":4},{"x0":714,"x1":726,"y0":444,"y1":449,"v":2.2},{"x0":727,"x1":731,"y0":437,"y1":449,"v":1},{"x0":642,"x1":652,"y0":456,"y1":472,"v":0.8},{"x0":653,"x1":662,"y0":456,"y1":472,"v":0.35},{"x0":662,"x1":670,"y0":456,"y1":472,"v":1},{"x0":670,"x1":688,"y0":460,"y1":472,"v":1},{"x0":688,"x1":696,"y0":460,"y1":472,"v":1},{"x0":696,"x1":717,"y0":456,"y1":462,"v":0.7},{"x0":717,"x1":731,"y0":450,"y1":462,"v":1},{"x0":696,"x1":710,"y0":463,"y1":473,"v":1},{"x0":710,"x1":719,"y0":463,"y1":470,"v":1.4},{"x0":711,"x1":726,"y0":471,"y1":474,"v":4},{"x0":719,"x1":731,"y0":463,"y1":470,"v":1},{"x0":642,"x1":696,"y0":472,"y1":474,"v":0.6},
{"x0":642,"x1":704,"y0":476,"y1":492,"v":1},{"x0":705,"x1":726,"y0":476,"y1":492,"v":1.15},{"x0":727,"x1":731,"y0":476,"y1":492,"v":1},{"x0":642,"x1":670,"y0":493,"y1":499,"v":3.4},{"x0":670,"x1":704,"y0":493,"y1":500,"v":1},{"x0":704,"x1":715,"y0":493,"y1":500,"v":1},{"x0":715,"x1":731,"y0":493,"y1":500,"v":1},{"x0":642,"x1":665,"y0":500,"y1":506,"v":0.65},{"x0":665,"x1":680,"y0":500,"y1":507,"v":1},{"x0":680,"x1":700,"y0":500,"y1":507,"v":1},{"x0":700,"x1":715,"y0":501,"y1":511,"v":1},{"x0":715,"x1":719,"y0":501,"y1":511,"v":3.2},{"x0":719,"x1":731,"y0":501,"y1":511,"v":1},{"x0":642,"x1":650,"y0":507,"y1":514,"v":1},{"x0":650,"x1":662,"y0":507,"y1":514,"v":1},{"x0":662,"x1":677,"y0":508,"y1":514,"v":1},{"x0":677,"x1":685,"y0":508,"y1":512,"v":0.6},{"x0":685,"x1":700,"y0":508,"y1":514,"v":1},{"x0":700,"x1":731,"y0":511,"y1":514,"v":1},
{"x0":733,"x1":938,"y0":372,"y1":399,"v":1.2},{"x0":733,"x1":819,"y0":400,"y1":416,"v":3.3},{"x0":820,"x1":856,"y0":400,"y1":416,"v":0.45},{"x0":857,"x1":886,"y0":400,"y1":409,"v":2.7},{"x0":887,"x1":915,"y0":400,"y1":409,"v":1.8},{"x0":916,"x1":938,"y0":400,"y1":409,"v":1},{"x0":857,"x1":880,"y0":410,"y1":416,"v":1},{"x0":881,"x1":904,"y0":410,"y1":416,"v":1},{"x0":905,"x1":922,"y0":410,"y1":416,"v":3.2},{"x0":922,"x1":932,"y0":410,"y1":416,"v":1},{"x0":932,"x1":938,"y0":410,"y1":416,"v":1},{"x0":733,"x1":799,"y0":417,"y1":438,"v":3.4},{"x0":800,"x1":831,"y0":417,"y1":443,"v":4},{"x0":832,"x1":862,"y0":417,"y1":443,"v":2.3},{"x0":863,"x1":905,"y0":417,"y1":440,"v":3},{"x0":906,"x1":921,"y0":417,"y1":435,"v":1},{"x0":922,"x1":930,"y0":417,"y1":435,"v":1},{"x0":931,"x1":938,"y0":417,"y1":435,"v":0.02},{"x0":733,"x1":791,"y0":439,"y1":447,"v":2},{"x0":792,"x1":799,"y0":439,"y1":447,"v":1},{"x0":800,"x1":862,"y0":444,"y1":447,"v":1.5},{"x0":733,"x1":862,"y0":447,"y1":453,"v":1.5},{"x0":863,"x1":880,"y0":441,"y1":448,"v":1},{"x0":880,"x1":892,"y0":441,"y1":448,"v":1},{"x0":892,"x1":900,"y0":441,"y1":448,"v":1.6},{"x0":900,"x1":905,"y0":446,"y1":449,"v":3.6},{"x0":900,"x1":905,"y0":441,"y1":446,"v":1},{"x0":863,"x1":915,"y0":449,"y1":455,"v":1.5},{"x0":906,"x1":922,"y0":436,"y1":449,"v":1},{"x0":922,"x1":938,"y0":436,"y1":449,"v":1},{"x0":915,"x1":938,"y0":449,"y1":455,"v":1},{"x0":733,"x1":810,"y0":454,"y1":457,"v":0.65},{"x0":811,"x1":851,"y0":454,"y1":457,"v":0.65},{"x0":851,"x1":862,"y0":454,"y1":457,"v":1},{"x0":733,"x1":782,"y0":458,"y1":487,"v":2.6},{"x0":783,"x1":809,"y0":458,"y1":476,"v":4},{"x0":810,"x1":821,"y0":458,"y1":491,"v":4},{"x0":783,"x1":809,"y0":477,"y1":491,"v":4},{"x0":822,"x1":861,"y0":458,"y1":490,"v":2.2},{"x0":862,"x1":888,"y0":456,"y1":486,"v":0.15},{"x0":889,"x1":905,"y0":456,"y1":486,"v":0.35},{"x0":906,"x1":938,"y0":456,"y1":489,"v":3.2},{"x0":733,"x1":762,"y0":488,"y1":506,"v":1.7},{"x0":763,"x1":782,"y0":488,"y1":503,"v":1},{"x0":783,"x1":794,"y0":492,"y1":506,"v":1},{"x0":795,"x1":805,"y0":492,"y1":506,"v":2.4},{"x0":806,"x1":815,"y0":492,"y1":497,"v":1},{"x0":806,"x1":815,"y0":497,"y1":502,"v":4},{"x0":816,"x1":821,"y0":492,"y1":506,"v":1},{"x0":763,"x1":782,"y0":503,"y1":506,"v":1.6},{"x0":733,"x1":781,"y0":507,"y1":513,"v":1},{"x0":782,"x1":821,"y0":507,"y1":512,"v":4},{"x0":822,"x1":858,"y0":494,"y1":514,"v":0.35},{"x0":859,"x1":862,"y0":491,"y1":514,"v":1},{"x0":822,"x1":859,"y0":491,"y1":494,"v":1},{"x0":862,"x1":877,"y0":487,"y1":495,"v":1},{"x0":878,"x1":891,"y0":487,"y1":495,"v":1},{"x0":892,"x1":905,"y0":487,"y1":495,"v":1},{"x0":906,"x1":938,"y0":490,"y1":495,"v":0.88},{"x0":862,"x1":890,"y0":495,"y1":499,"v":1},{"x0":890,"x1":915,"y0":495,"y1":499,"v":1},{"x0":915,"x1":938,"y0":495,"y1":499,"v":1},{"x0":862,"x1":898,"y0":499,"y1":507,"v":0.38},{"x0":899,"x1":913,"y0":499,"y1":507,"v":1},{"x0":914,"x1":929,"y0":499,"y1":507,"v":0.7},{"x0":929,"x1":938,"y0":499,"y1":507,"v":1},{"x0":862,"x1":938,"y0":508,"y1":514,"v":1.2},
{"x0":642,"x1":670,"y0":517,"y1":538,"v":1},{"x0":671,"x1":697,"y0":517,"y1":538,"v":1},{"x0":697,"x1":753,"y0":517,"y1":541,"v":1},{"x0":753,"x1":797,"y0":517,"y1":541,"v":0.5},{"x0":642,"x1":666,"y0":539,"y1":547,"v":1.6},{"x0":667,"x1":687,"y0":539,"y1":547,"v":0.35},{"x0":687,"x1":693,"y0":539,"y1":547,"v":1.5},{"x0":693,"x1":725,"y0":544,"y1":547,"v":0.8},{"x0":725,"x1":732,"y0":544,"y1":547,"v":1},{"x0":732,"x1":740,"y0":544,"y1":547,"v":0.6},{"x0":741,"x1":748,"y0":542,"y1":547,"v":1},{"x0":748,"x1":752,"y0":542,"y1":547,"v":0.6},{"x0":752,"x1":793,"y0":541,"y1":547,"v":0.55},{"x0":793,"x1":797,"y0":541,"y1":547,"v":0.45},{"x0":642,"x1":668,"y0":547,"y1":562,"v":0.55},{"x0":669,"x1":687,"y0":547,"y1":562,"v":0.8},{"x0":687,"x1":731,"y0":547,"y1":557,"v":0.55},{"x0":732,"x1":750,"y0":547,"y1":557,"v":0.35},{"x0":751,"x1":764,"y0":547,"y1":557,"v":1.3},{"x0":765,"x1":778,"y0":547,"y1":557,"v":0.65},{"x0":779,"x1":797,"y0":547,"y1":557,"v":0.85},{"x0":642,"x1":664,"y0":562,"y1":572,"v":0.75},{"x0":665,"x1":679,"y0":562,"y1":569,"v":0.3},{"x0":680,"x1":687,"y0":562,"y1":569,"v":0.6},{"x0":665,"x1":687,"y0":569,"y1":572,"v":1},{"x0":687,"x1":731,"y0":557,"y1":572,"v":0.92},{"x0":732,"x1":752,"y0":562,"y1":568,"v":1},{"x0":732,"x1":752,"y0":557,"y1":562,"v":1},{"x0":752,"x1":769,"y0":562,"y1":568,"v":1},{"x0":770,"x1":781,"y0":562,"y1":568,"v":1},{"x0":782,"x1":785,"y0":562,"y1":570,"v":0.45},{"x0":785,"x1":797,"y0":562,"y1":570,"v":1},{"x0":752,"x1":797,"y0":558,"y1":562,"v":1},{"x0":732,"x1":745,"y0":569,"y1":572,"v":0.55},{"x0":745,"x1":770,"y0":569,"y1":572,"v":1.4},{"x0":770,"x1":782,"y0":569,"y1":572,"v":1},{"x0":642,"x1":676,"y0":573,"y1":592,"v":0.5},{"x0":677,"x1":696,"y0":573,"y1":605,"v":0.45},{"x0":697,"x1":752,"y0":573,"y1":592,"v":0.08},{"x0":753,"x1":797,"y0":573,"y1":582,"v":2.5},{"x0":753,"x1":787,"y0":582,"y1":588,"v":1.5},{"x0":788,"x1":797,"y0":582,"y1":588,"v":1},{"x0":753,"x1":778,"y0":589,"y1":592,"v":1},{"x0":778,"x1":788,"y0":589,"y1":592,"v":2},{"x0":788,"x1":797,"y0":589,"y1":592,"v":1},{"x0":642,"x1":673,"y0":593,"y1":606,"v":0.45},{"x0":697,"x1":726,"y0":592,"y1":595,"v":0.65},{"x0":727,"x1":752,"y0":592,"y1":595,"v":1},{"x0":697,"x1":730,"y0":596,"y1":606,"v":2.4},{"x0":733,"x1":744,"y0":596,"y1":605,"v":1},{"x0":745,"x1":748,"y0":596,"y1":605,"v":1},{"x0":753,"x1":768,"y0":593,"y1":603,"v":1.2},{"x0":769,"x1":777,"y0":593,"y1":603,"v":1},{"x0":777,"x1":789,"y0":593,"y1":605,"v":0.9},{"x0":790,"x1":797,"y0":593,"y1":605,"v":1},
{"x0":642,"x1":683,"y0":609,"y1":627,"v":0.6},{"x0":683,"x1":686,"y0":609,"y1":627,"v":1},{"x0":687,"x1":721,"y0":609,"y1":619,"v":1},{"x0":722,"x1":758,"y0":609,"y1":617,"v":1},{"x0":759,"x1":797,"y0":609,"y1":615,"v":1},{"x0":759,"x1":797,"y0":616,"y1":621,"v":1},{"x0":687,"x1":720,"y0":619,"y1":627,"v":1},{"x0":720,"x1":760,"y0":618,"y1":627,"v":1},{"x0":760,"x1":797,"y0":621,"y1":627,"v":1},
{"x0":799,"x1":896,"y0":517,"y1":551,"v":1.2},{"x0":897,"x1":904,"y0":516,"y1":551,"v":0.45},{"x0":905,"x1":938,"y0":516,"y1":574,"v":1},{"x0":799,"x1":898,"y0":552,"y1":572,"v":1.2},{"x0":899,"x1":904,"y0":552,"y1":567,"v":1},{"x0":899,"x1":904,"y0":567,"y1":577,"v":1},{"x0":799,"x1":886,"y0":572,"y1":577,"v":1.2},{"x0":887,"x1":893,"y0":572,"y1":577,"v":1.6},{"x0":893,"x1":898,"y0":572,"y1":577,"v":1.5},{"x0":799,"x1":837,"y0":578,"y1":613,"v":3.2},{"x0":838,"x1":871,"y0":578,"y1":596,"v":0.4},{"x0":872,"x1":892,"y0":578,"y1":598,"v":1.4},{"x0":893,"x1":912,"y0":578,"y1":613,"v":1},{"x0":913,"x1":923,"y0":578,"y1":595,"v":1},{"x0":924,"x1":932,"y0":578,"y1":595,"v":1},{"x0":933,"x1":938,"y0":578,"y1":595,"v":1},{"x0":838,"x1":853,"y0":597,"y1":603,"v":1},{"x0":853,"x1":871,"y0":597,"y1":603,"v":1},{"x0":838,"x1":871,"y0":604,"y1":613,"v":1},{"x0":872,"x1":892,"y0":599,"y1":611,"v":1},{"x0":872,"x1":882,"y0":612,"y1":617,"v":1.4},{"x0":882,"x1":893,"y0":612,"y1":617,"v":1},{"x0":799,"x1":837,"y0":613,"y1":623,"v":1},{"x0":838,"x1":859,"y0":613,"y1":620,"v":1.7},{"x0":860,"x1":863,"y0":613,"y1":620,"v":4},{"x0":864,"x1":868,"y0":613,"y1":620,"v":1},{"x0":869,"x1":871,"y0":613,"y1":620,"v":4},{"x0":872,"x1":912,"y0":618,"y1":625,"v":1.6},{"x0":913,"x1":925,"y0":596,"y1":604,"v":1},{"x0":925,"x1":938,"y0":596,"y1":604,"v":1},{"x0":913,"x1":925,"y0":604,"y1":613,"v":1},{"x0":925,"x1":938,"y0":604,"y1":613,"v":1},{"x0":913,"x1":925,"y0":613,"y1":620,"v":1},{"x0":925,"x1":938,"y0":613,"y1":620,"v":1},{"x0":913,"x1":938,"y0":620,"y1":627,"v":1},{"x0":893,"x1":912,"y0":613,"y1":618,"v":1.4},{"x0":799,"x1":837,"y0":624,"y1":627,"v":1},{"x0":838,"x1":871,"y0":621,"y1":627,"v":1},{"x0":872,"x1":897,"y0":625,"y1":627,"v":0.4},{"x0":897,"x1":912,"y0":625,"y1":627,"v":1},
{"x0":247,"x1":288,"y0":561,"y1":578,"v":1},{"x0":289,"x1":312,"y0":561,"y1":577,"v":1},{"x0":247,"x1":273,"y0":613,"y1":620,"v":1},{"x0":273,"x1":294,"y0":613,"y1":620,"v":1},{"x0":295,"x1":308,"y0":613,"y1":618,"v":1.3},{"x0":308,"x1":312,"y0":613,"y1":620,"v":1},{"x0":247,"x1":273,"y0":620,"y1":627,"v":1},{"x0":273,"x1":312,"y0":620,"y1":627,"v":1},
{"x0":314,"x1":412,"y0":561,"y1":580,"v":0.02},{"x0":412,"x1":459,"y0":561,"y1":593,"v":0.6},{"x0":460,"x1":503,"y0":561,"y1":581,"v":1},{"x0":504,"x1":552,"y0":561,"y1":599,"v":0.4},{"x0":553,"x1":566,"y0":561,"y1":599,"v":0.6},{"x0":567,"x1":580,"y0":561,"y1":599,"v":1},{"x0":581,"x1":632,"y0":561,"y1":596,"v":0.1},{"x0":633,"x1":640,"y0":561,"y1":581,"v":1},{"x0":633,"x1":640,"y0":581,"y1":600,"v":1},{"x0":314,"x1":366,"y0":581,"y1":595,"v":0.2},{"x0":367,"x1":412,"y0":581,"y1":590,"v":0.3},{"x0":367,"x1":412,"y0":590,"y1":595,"v":1},{"x0":314,"x1":412,"y0":596,"y1":600,"v":1},{"x0":314,"x1":378,"y0":601,"y1":608,"v":1},{"x0":379,"x1":415,"y0":601,"y1":608,"v":1},{"x0":314,"x1":368,"y0":609,"y1":615,"v":1},{"x0":369,"x1":402,"y0":609,"y1":615,"v":1},{"x0":403,"x1":412,"y0":609,"y1":622,"v":1},{"x0":314,"x1":402,"y0":616,"y1":622,"v":1},{"x0":314,"x1":347,"y0":623,"y1":627,"v":0.6},{"x0":347,"x1":412,"y0":623,"y1":627,"v":1},{"x0":412,"x1":458,"y0":594,"y1":600,"v":1},{"x0":412,"x1":458,"y0":601,"y1":608,"v":1},{"x0":415,"x1":458,"y0":608,"y1":615,"v":1},{"x0":412,"x1":510,"y0":616,"y1":622,"v":0.12},{"x0":412,"x1":510,"y0":622,"y1":627,"v":1},{"x0":458,"x1":547,"y0":581,"y1":613,"v":1},{"x0":458,"x1":510,"y0":613,"y1":616,"v":1},{"x0":510,"x1":556,"y0":613,"y1":619,"v":1},{"x0":548,"x1":556,"y0":599,"y1":613,"v":1},{"x0":557,"x1":576,"y0":600,"y1":618,"v":1},{"x0":578,"x1":594,"y0":600,"y1":615,"v":1},{"x0":595,"x1":609,"y0":600,"y1":615,"v":0.5},{"x0":610,"x1":638,"y0":600,"y1":616,"v":0.35},{"x0":638,"x1":640,"y0":600,"y1":616,"v":1},{"x0":511,"x1":530,"y0":620,"y1":627,"v":0.7},{"x0":531,"x1":548,"y0":620,"y1":627,"v":0.9},{"x0":549,"x1":576,"y0":619,"y1":627,"v":1},{"x0":577,"x1":587,"y0":617,"y1":627,"v":1},{"x0":588,"x1":598,"y0":620,"y1":627,"v":1.2},{"x0":598,"x1":610,"y0":620,"y1":627,"v":1},{"x0":610,"x1":625,"y0":617,"y1":619,"v":1.3},{"x0":610,"x1":640,"y0":620,"y1":627,"v":1},
{"x0":244,"x1":313,"y0":579,"y1":612,"v":1}
],
"sectors":[
{"soc":"Blood","x0":247,"x1":471,"y0":36,"y1":108},{"soc":"Card","x0":247,"x1":471,"y0":108,"y1":254},{"soc":"Genrl","x0":247,"x1":663,"y0":254,"y1":370},{"soc":"Gastr","x0":471,"x1":663,"y0":86,"y1":254},{"soc":"Cong","x0":471,"x1":545,"y0":36,"y1":58},{"soc":"Ear","x0":471,"x1":516,"y0":58,"y1":86},{"soc":"Endo","x0":516,"x1":545,"y0":58,"y1":86},{"soc":"Eye","x0":545,"x1":663,"y0":36,"y1":86},{"soc":"Hepat","x0":663,"x1":806,"y0":36,"y1":118},{"soc":"Immun","x0":806,"x1":850,"y0":36,"y1":118},{"soc":"Infec","x0":663,"x1":850,"y0":118,"y1":224},{"soc":"Inj&P","x0":850,"x1":938,"y0":36,"y1":224},{"soc":"Inv","x0":663,"x1":938,"y0":224,"y1":370},{"soc":"Metab","x0":247,"x1":405,"y0":370,"y1":448},{"soc":"Musc","x0":247,"x1":344,"y0":448,"y1":559},{"soc":"Neopl","x0":344,"x1":405,"y0":448,"y1":559},{"soc":"Nerv","x0":405,"x1":641,"y0":370,"y1":559},{"soc":"Renal","x0":641,"x1":732,"y0":370,"y1":475},{"soc":"Repro","x0":641,"x1":732,"y0":475,"y1":515},{"soc":"Resp","x0":732,"x1":938,"y0":370,"y1":515},{"soc":"Skin","x0":641,"x1":798,"y0":515,"y1":608},{"soc":"SocCi","x0":641,"x1":687,"y0":608,"y1":627},{"soc":"Surg","x0":687,"x1":798,"y0":608,"y1":627},{"soc":"Vasc","x0":798,"x1":938,"y0":515,"y1":627},{"soc":"Preg","x0":247,"x1":314,"y0":559,"y1":627},{"soc":"Psych","x0":314,"x1":641,"y0":559,"y1":627}
]
},
"encoding":{"x":{"field":"x0","type":"quantitative","axis":null,"scale":{"domain":[0,954],"nice":false,"zero":false}},"y":{"field":"y0","type":"quantitative","axis":null,"scale":{"domain":[0,721],"nice":false,"zero":false,"reverse":true}}},
"layer":[
{"data":{"values":[{"x0":7,"x1":954,"y0":4,"y1":7}]},"mark":{"type":"rect","color":"#000000"},"encoding":{"x2":{"field":"x1"},"y2":{"field":"y1"}}},
{"data":{"values":[{"x0":7,"x1":10,"y0":4,"y1":721}]},"mark":{"type":"rect","color":"#111111"},"encoding":{"x2":{"field":"x1"},"y2":{"field":"y1"}}},
{"data":{"values":[{"x0":10,"x1":954,"y0":7,"y1":69}]},"mark":{"type":"rect","color":{"gradient":"linear","x1":0,"y1":0,"x2":1,"y2":0,"stops":[{"offset":0,"color":"#1577ae"},{"offset":0.23,"color":"#6a96c0"},{"offset":0.55,"color":"#c5d3e4"},{"offset":0.95,"color":"#ffffff"},{"offset":1,"color":"#ffffff"}]}},"encoding":{"x2":{"field":"x1"},"y2":{"field":"y1"}}},
{"data":{"values":[{"x0":10,"x1":227,"y0":69,"y1":77}]},"mark":{"type":"rect","color":"#92cff5"},"encoding":{"x2":{"field":"x1"},"y2":{"field":"y1"}}},
{"data":{"values":[{"x0":227,"x1":954,"y0":27,"y1":77}]},"mark":{"type":"rect","color":"#ffffff"},"encoding":{"x2":{"field":"x1"},"y2":{"field":"y1"}}},
{"data":{"values":[{"x0":247,"x1":938,"y0":36,"y1":627}]},"mark":{"type":"rect","color":"#303030"},"encoding":{"x2":{"field":"x1"},"y2":{"field":"y1"}}},
{"data":{"name":"tiles"},"mark":{"type":"rect","stroke":"#3f3f3f","strokeWidth":1},"encoding":{"x2":{"field":"x1"},"y2":{"field":"y1"},"color":{"field":"v","type":"quantitative","scale":{"domain":[0,1,4],"range":["#00ff00","#000000","#ff0000"],"interpolate":"rgb"},"legend":{"orient":"none","legendX":493,"legendY":654,"direction":"horizontal","gradientLength":200,"gradientThickness":30,"values":[0,0.5,1,1.5,2,2.5,3,3.5,4],"format":".1~f","title":null,"labelOverlap":false,"labelFontWeight":"bold","labelFontSize":12,"labelFont":"Liberation Sans","labelColor":"#000000","labelAlign":"center","labelOffset":2,"gradientStrokeWidth":0}}}},
{"data":{"name":"sectors"},"mark":{"type":"rect","filled":false,"stroke":"#ffffff","strokeWidth":2},"encoding":{"x2":{"field":"x1"},"y2":{"field":"y1"}}},
{"data":{"values":[{"t":"Cong","x0":507,"y0":50},{"t":"Ear","x0":493,"y0":76},{"t":"Endo","x0":530,"y0":76},{"t":"Eye","x0":603,"y0":64},{"t":"Hepat","x0":733,"y0":80},{"t":"Immun","x0":827,"y0":80},{"t":"Inj&P","x0":893,"y0":132},{"t":"Gastr","x0":566,"y0":174},{"t":"Infec","x0":755,"y0":174},{"t":"Card","x0":358,"y0":185},{"t":"Genrl","x0":453,"y0":314},{"t":"Inv","x0":799,"y0":299},{"t":"Metab","x0":325,"y0":411},{"t":"Nerv","x0":522,"y0":467},{"t":"Renal","x0":686,"y0":425},{"t":"Repro","x0":686,"y0":497},{"t":"Resp","x0":834,"y0":445},{"t":"Musc","x0":295,"y0":506},{"t":"Neopl","x0":373,"y0":506},{"t":"Skin","x0":719,"y0":564},{"t":"Vasc","x0":869,"y0":574},{"t":"SocCi","x0":663,"y0":620},{"t":"Surg","x0":742,"y0":620}]},"mark":{"type":"text","font":"Liberation Sans","fontWeight":"bold","fontSize":11.5,"color":"#ffffff","align":"center","baseline":"middle"},"encoding":{"text":{"field":"t"}}},
{"data":{"values":[{"t":"1","x0":798,"y0":227},{"t":"4","x0":760,"y0":278},{"t":"6","x0":818,"y0":110},{"t":"8","x0":818,"y0":506},{"t":"1","x0":386,"y0":457},{"t":"0","x0":393,"y0":457},{"t":"2","x0":400,"y0":456},{"t":"7","x0":397,"y0":466},{"t":"3","x0":403,"y0":466},{"t":"5","x0":352,"y0":561},{"t":"9","x0":378,"y0":558}]},"mark":{"type":"text","font":"Liberation Sans","fontSize":11,"color":"#ffffff","align":"center","baseline":"middle"},"encoding":{"text":{"field":"t"}}},
{"data":{"values":[{"t":"Blood","x0":359,"y0":73}]},"mark":{"type":"text","font":"Liberation Sans","fontWeight":"bold","fontSize":41,"color":"#ffffff","align":"center","baseline":"middle"},"encoding":{"text":{"field":"t"}}},
{"data":{"values":[{"t":"Preg","x0":279,"y0":594},{"t":"Psych","x0":503,"y0":596}]},"mark":{"type":"text","font":"Liberation Sans","fontWeight":"bold","fontSize":30,"color":"#f2f2f2","align":"center","baseline":"middle"},"encoding":{"text":{"field":"t"}}},
{"data":{"values":[{"t":"Sector Map","x0":28,"y0":165}]},"mark":{"type":"text","font":"Liberation Sans","fontWeight":"bold","fontSize":37,"color":"#000000","align":"left","baseline":"alphabetic"},"encoding":{"text":{"field":"t"}}},
{"data":{"values":[{"t":"所选的参数以","x0":28,"y0":337},{"t":"MedDRA","x0":47,"y0":367},{"t":"SOC呈现","x0":47,"y0":399}]},"mark":{"type":"text","font":"Liberation Sans, Noto Sans CJK SC","fontSize":26.4,"color":"#24507f","align":"left","baseline":"alphabetic"},"encoding":{"text":{"field":"t"}}},
{"data":{"values":[{"x0":98,"y0":682}]},"mark":{"type":"point","filled":true,"size":7569,"opacity":1,"shape":"M -1 0.2 C -0.95 -0.3 -0.6 -0.5 -0.15 -0.58 C 0.3 -0.62 0.85 -0.55 1 -0.15 L 1 0.2 C 0.8 0.45 0.3 0.5 -0.2 0.58 C -0.7 0.62 -1 0.5 -1 0.2 Z","color":{"gradient":"linear","x1":0,"y1":0,"x2":1,"y2":0.3,"stops":[{"offset":0,"color":"#3ab8e8"},{"offset":0.5,"color":"#2aa6e0"},{"offset":1,"color":"#0a5596"}]}}},
{"data":{"values":[{"t":"Pfizer","x0":98,"y0":690}]},"mark":{"type":"text","font":"Liberation Serif","fontStyle":"italic","fontSize":26,"color":"#e8f4fb","align":"center","baseline":"alphabetic","angle":-4},"encoding":{"text":{"field":"t"}}}
]}
